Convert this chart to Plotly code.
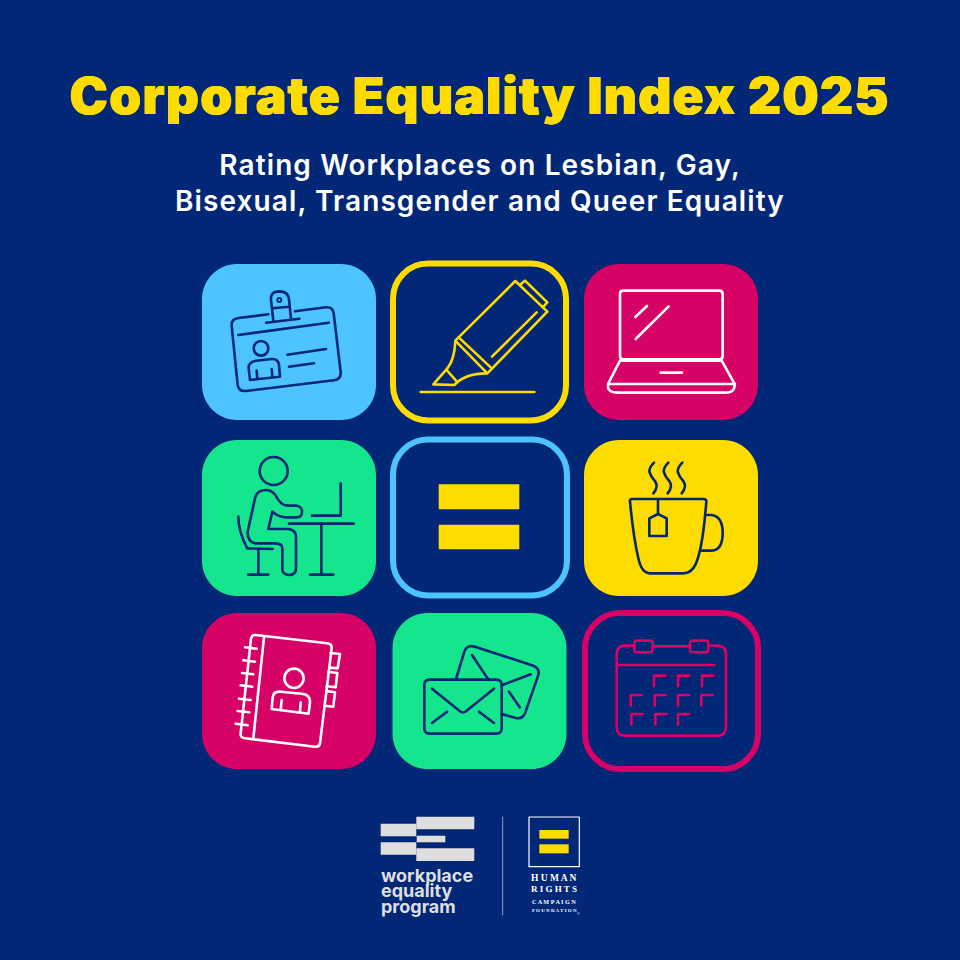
"""Corporate Equality Index 2025 cover tile, drawn with Plotly shapes."""
import re

import plotly.graph_objects as go

BG = "#012776"
BLUE = "#4DC4FF"
YELLOW = "#FFDC00"
MAGENTA = "#D60265"
GREEN = "#15E68D"
WHITE = "#FFFFFF"
LOGO = "#DEDEDF"

TITLE = "Corporate Equality Index 2025"
SUBTITLE_LINES = [
    "Rating Workplaces on Lesbian, Gay,",
    "Bisexual, Transgender and Queer Equality",
]
LOGO_WORDS = ["workplace", "equality", "program"]
HRC_WORDS = ["H U M A N", "R I G H T S", "C A M P A I G N", "F O U N D A T I O N"]

LINE = 2.6
shapes = []


def zoomed(ox, oy, path):
    """Convert a path traced on a 3x crop back to page pixels."""
    parts = re.findall(r"[A-Za-z]|-?\d+\.?\d*", path)
    out = []
    is_x = True
    for p in parts:
        if p.isalpha():
            out.append(p)
            is_x = True
        else:
            base = ox if is_x else oy
            out.append(f"{base + float(p) / 3:.2f}")
            is_x = not is_x
    return " ".join(out)


def stroke(path, color, width=LINE, fill=None):
    shapes.append(dict(
        type="path", path=path, xref="x", yref="y", layer="above",
        line=dict(color=color, width=width),
        fillcolor=fill or "rgba(0,0,0,0)",
    ))


def solid(x0, y0, x1, y1, color):
    shapes.append(dict(
        type="rect", x0=x0, y0=y0, x1=x1, y1=y1, xref="x", yref="y",
        layer="above", fillcolor=color, line=dict(width=0),
    ))


def round_rect(x0, y0, x1, y1, r):
    return (
        f"M {x0 + r} {y0} L {x1 - r} {y0} C {x1 - r * 0.45} {y0} {x1} {y0 + r * 0.45} {x1} {y0 + r} "
        f"L {x1} {y1 - r} C {x1} {y1 - r * 0.45} {x1 - r * 0.45} {y1} {x1 - r} {y1} "
        f"L {x0 + r} {y1} C {x0 + r * 0.45} {y1} {x0} {y1 - r * 0.45} {x0} {y1 - r} "
        f"L {x0} {y0 + r} C {x0} {y0 + r * 0.45} {x0 + r * 0.45} {y0} {x0 + r} {y0} Z"
    )


def circle(ox, oy, cx, cy, r, color, width=LINE):
    cx, cy, r = ox + cx / 3, oy + cy / 3, r / 3
    shapes.append(dict(
        type="circle", x0=cx - r, x1=cx + r, y0=cy - r, y1=cy + r,
        xref="x", yref="y", layer="above", line=dict(color=color, width=width),
    ))


# tiles: filled ones first, outlined ones carry a thick border
for x0, y0, color in [
    (202, 264, BLUE), (584, 264, MAGENTA),
    (202, 440, GREEN), (584, 440, YELLOW),
    (202, 613, MAGENTA), (392.5, 613, GREEN),
]:
    stroke(round_rect(x0, y0, x0 + 174, y0 + 156, 35), color, 0, color)

stroke(round_rect(393, 263.5, 566, 420.5, 35), YELLOW, 6)
stroke(round_rect(393, 439.5, 567, 595.5, 35), BLUE, 6)
stroke(round_rect(585, 613, 758, 769, 35), MAGENTA, 6)

# id card
ox, oy = 190, 250
for p in [
    "M 235 193 L 145 204 Q 123 207 125 228 L 143 405 Q 146 425 168 423 L 432 391 Q 454 388 452 366 L 431 190 Q 428 170 408 172 L 315 184",
    "M 228 218 L 328 206",
    "M 250 212 L 243 150 Q 240 125 268 124 Q 295 124 297 148 L 303 206",
    "M 248 175 L 298 170",
    "M 145 255 L 416 218",
    "M 180 390 L 176 355 Q 175 335 198 332 L 245 327 Q 265 326 267 345 L 270 380 Z",
    "M 200 362 L 202 387",
    "M 245 357 L 247 380",
    "M 292 314 L 408 297",
    "M 297 350 L 372 340",
]:
    stroke(zoomed(ox, oy, p), BG)
circle(ox, oy, 213, 295, 22, BG)
circle(ox, oy, 268, 150, 6, BG, 1.8)

# highlighter
for p in [
    "M 976 93 L 1072 185 L 892 370 L 796 272 Z",
    "M 990 104 L 1005 92 L 1072 157 L 1058 172",
    "M 1040 187 L 906 320",
    "M 806 262 L 902 352",
    "M 796 275 Q 793 330 772 355 L 730 403 L 793 405 Q 825 370 890 370",
    "M 770 360 L 798 392",
    "M 692 426 L 1033 426",
]:
    stroke(zoomed(ox, oy, p), YELLOW)

# laptop
ox, oy = 570, 250
for p in [
    "M 160 122 L 448 122 Q 458 122 458 132 L 458 318 Q 458 328 448 328 L 160 328 Q 150 328 150 318 L 150 132 Q 150 122 160 122 Z",
    "M 196 201 L 231 168",
    "M 197 267 L 296 169",
    "M 150 332 L 455 332 L 493 400 Q 498 428 465 428 L 145 428 Q 108 428 115 400 Z",
    "M 115 402 L 495 402",
    "M 272 368 L 336 368",
]:
    stroke(zoomed(ox, oy, p), WHITE)

# person at desk
ox, oy = 190, 430
for p in [
    "M 247 245 L 235 297 L 295 297 Q 318 300 318 320 L 318 415 Q 318 435 298 435 Q 277 435 277 415 L 277 355 Q 277 340 255 340 L 195 340 Q 172 335 173 305 L 195 205 Q 200 180 228 180 Q 250 180 262 205 Q 275 227 295 227 L 320 227 Q 336 230 336 245 Q 336 262 320 262 L 285 262 Q 265 260 247 245",
    "M 145 260 Q 145 305 172 355 L 248 357",
    "M 205 358 L 205 433",
    "M 175 434 L 235 434",
    "M 297 281 L 491 281",
    "M 394 281 L 394 433",
    "M 360 434 L 430 434",
    "M 366 257 L 452 257 L 452 160",
]:
    stroke(zoomed(ox, oy, p), BG)
circle(ox, oy, 251, 123, 42, BG)

# equals sign
solid(438.7, 484.3, 519.3, 509.3, YELLOW)
solid(438.7, 524.7, 519.3, 549.3, YELLOW)

# mug
ox, oy = 570, 430
for p in [
    "M 180 215 Q 178 207 188 207 L 400 207 Q 410 207 409 215 Q 400 330 385 380 Q 372 430 340 430 L 240 430 Q 215 430 205 385 Q 190 320 180 215 Z",
    "M 408 255 L 425 255 Q 458 260 458 308 Q 458 360 425 362 L 392 362",
    "M 264 208 L 264 250",
    "M 238 265 L 264 252 L 290 265 L 290 318 L 238 318 Z",
    "M 252 98 Q 238 112 238 125 Q 242 140 256 155 Q 266 170 250 190",
    "M 295 98 Q 281 112 281 125 Q 285 140 299 155 Q 309 170 293 190",
    "M 337 98 Q 323 112 323 125 Q 327 140 341 155 Q 351 170 335 190",
]:
    stroke(zoomed(ox, oy, p), BG)

# address book
ox, oy = 190, 605
for p in [
    "M 197 90 L 412 115 Q 426 117 425 130 L 390 415 Q 388 427 375 425 L 165 400 Q 150 398 152 385 L 183 102 Q 185 89 197 90 Z",
    "M 222 97 L 190 400",
    "M 165 127 L 200 131", "M 160 166 L 195 170", "M 156 204 L 190 208",
    "M 152 241 L 187 245", "M 147 281 L 182 285", "M 143 318 L 178 322",
    "M 137 356 L 173 361",
    "M 422 144 L 450 147 L 443 190 L 418 188",
    "M 415 200 L 442 204 L 437 247 L 410 244",
    "M 408 258 L 435 262 L 430 305 L 403 302",
    "M 245 312 L 248 278 Q 250 258 272 260 L 335 266 Q 360 268 360 290 L 356 326 Z",
    "M 275 285 L 272 315",
    "M 332 292 L 330 320",
]:
    stroke(zoomed(ox, oy, p), WHITE)
circle(ox, oy, 312, 220, 29, WHITE)

# envelopes
ox, oy = 385, 605
for p in [
    "M 134 224 L 334 224 Q 350 224 350 240 L 350 370 Q 350 386 334 386 L 134 386 Q 118 386 118 370 L 118 240 Q 118 224 134 224 Z",
    "M 141 251 L 225 319 Q 234 326 243 319 L 327 251",
    "M 186 320 L 141 354",
    "M 282 320 L 327 354",
    "M 213 222 L 238 140 Q 245 118 270 125 L 445 182 Q 465 190 460 210 L 420 325 Q 412 345 390 338 L 350 327",
    "M 261 150 L 309 222",
    "M 352 240 L 437 208",
    "M 372 260 L 404 307",
]:
    stroke(zoomed(ox, oy, p), BG)

# calendar
ox, oy = 575, 605
for p in [
    "M 178 122 L 150 122 Q 125 122 125 148 L 125 365 Q 125 392 150 392 L 425 392 Q 453 392 453 365 L 453 148 Q 453 122 425 122 L 400 122",
    "M 233 124 L 345 124",
    "M 130 180 L 418 180",
    "M 186 107 L 225 107 Q 233 107 233 115 L 233 134 Q 233 142 225 142 L 186 142 Q 178 142 178 134 L 178 115 Q 178 107 186 107 Z",
    "M 353 107 L 392 107 Q 400 107 400 115 L 400 134 Q 400 142 392 142 L 353 142 Q 345 142 345 134 L 345 115 Q 345 107 353 107 Z",
]:
    stroke(zoomed(ox, oy, p), MAGENTA)
for mx, my in [
    (237, 212), (309, 212), (381, 212),
    (167, 270), (239, 270), (309, 270), (379, 270),
    (169, 327), (241, 327), (309, 327),
]:
    stroke(zoomed(ox, oy, f"M {mx} {my + 32} L {mx} {my} L {mx + 34} {my}"), MAGENTA)

# logos
for x0, y0, x1, y1 in [
    (416.3, 816.7, 474.3, 829.3), (380.7, 823.7, 416.3, 836.3),
    (416.7, 835.7, 445.3, 842.3),
    (380.7, 842.3, 416.3, 854.7), (416.3, 848.3, 474.3, 861),
]:
    solid(x0, y0, x1, y1, LOGO)
ox, oy = 370, 805
stroke(zoomed(ox, oy, "M 398 36 L 398 330"), "#8FA0C4", 1)
stroke(zoomed(ox, oy, "M 477 36 L 628 36 L 628 185 L 477 185 Z"), WHITE, 1.2)
solid(ox + 508 / 3, oy + 75 / 3, ox + 596 / 3, oy + 101 / 3, YELLOW)
solid(ox + 508 / 3, oy + 118 / 3, ox + 596 / 3, oy + 145 / 3, YELLOW)

annotations = [
    dict(
        x=480, y=95, text=TITLE, xanchor="center", yanchor="middle",
        font=dict(family="Inter", size=51, color=YELLOW, weight=900,
                  shadow=f"0.6px 0 0 {YELLOW}, -0.6px 0 0 {YELLOW}"),
    ),
]
for y, line in zip([165, 201], SUBTITLE_LINES):
    annotations.append(dict(
        x=480, y=y, text=line, xanchor="center", yanchor="middle",
        font=dict(family="Inter", size=28, color=WHITE, weight=600),
    ))
for y, word in zip([875, 890, 906], LOGO_WORDS):
    annotations.append(dict(
        x=379, y=y, text=word, xanchor="left", yanchor="middle",
        font=dict(family="Inter", size=18, color=LOGO, weight=700),
    ))
for y, word, size in zip([878, 889, 901, 910], HRC_WORDS, [9.5, 9, 6.2, 5]):
    annotations.append(dict(
        x=554, y=y, text=word, xanchor="center", yanchor="middle",
        font=dict(family="Liberation Serif", size=size, color=WHITE, weight=700),
    ))
annotations.append(dict(
    x=578.5, y=913.5, text="®", xanchor="center", yanchor="middle",
    font=dict(family="Liberation Sans", size=3.5, color=WHITE),
))

for a in annotations:
    a.update(xref="x", yref="y", showarrow=False)

fig = go.Figure()
fig.update_layout(
    width=960,
    height=960,
    margin=dict(l=0, r=0, t=0, b=0),
    paper_bgcolor=BG,
    plot_bgcolor=BG,
    xaxis=dict(range=[0, 960], visible=False, fixedrange=True),
    yaxis=dict(range=[960, 0], visible=False, fixedrange=True),
    shapes=shapes,
    annotations=annotations,
    showlegend=False,
)

# plotly has no letter spacing or line caps, so set them on the drawn page
fig.write_html(
    "out.html",
    post_script=(
        "document.body.style.margin='0';"
        "document.querySelectorAll('.shapelayer path').forEach(function(p){"
        "p.style.strokeLinecap='round';p.style.strokeLinejoin='round';});"
        "document.querySelectorAll('.annotation-text').forEach(function(t){"
        "var s=parseFloat(t.style.fontSize);"
        "if(s>40){t.style.letterSpacing='1.4px';}"
        "else if(s>20){t.style.letterSpacing='1.1px';}});"
    ),
    config={"displayModeBar": False},
)
